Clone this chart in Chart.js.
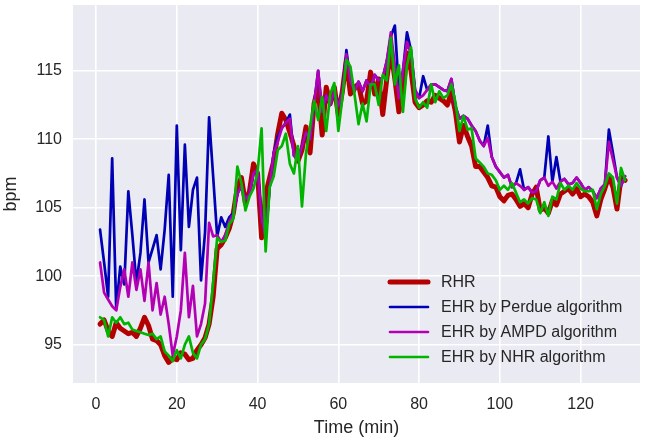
<!DOCTYPE html>
<html>
<head>
<meta charset="utf-8">
<script src="https://cdn.jsdelivr.net/npm/chart.js@4.4.0/dist/chart.umd.min.js"></script>
<style>
  html, body { margin: 0; padding: 0; background: #fff; }
  #wrap { width: 646px; height: 439px; }
</style>
</head>
<body>
<div id="wrap"><canvas id="hrChart" width="646" height="439"></canvas></div>
<script>
// minutes
var time = [
  1, 2, 3, 4, 5, 6, 7, 8, 9, 10, 11, 12, 13, 14, 15, 16, 17, 18, 19, 20,
  21, 22, 23, 24, 25, 26, 27, 28, 29, 30, 31, 32, 33, 34, 35, 36, 37, 38, 39, 40,
  41, 42, 43, 44, 45, 46, 47, 48, 49, 50, 51, 52, 53, 54, 55, 56, 57, 58, 59, 60,
  61, 62, 63, 64, 65, 66, 67, 68, 69, 70, 71, 72, 73, 74, 75, 76, 77, 78, 79, 80,
  81, 82, 83, 84, 85, 86, 87, 88, 89, 90, 91, 92, 93, 94, 95, 96, 97, 98, 99, 100,
  101, 102, 103, 104, 105, 106, 107, 108, 109, 110, 111, 112, 113, 114, 115, 116, 117, 118, 119, 120,
  121, 122, 123, 124, 125, 126, 127, 128, 129, 130, 131
];

var rhr = [
  96.5, 96.8, 96.0, 95.6, 96.6, 96.2, 96.0, 95.8, 95.9, 95.6,
  96.2, 97.0, 96.4, 95.4, 95.3, 95.0, 94.2, 93.7, 94.0, 93.9,
  94.4, 94.3, 93.9, 94.0, 94.6, 95.0, 95.5, 96.5, 98.5, 102.0,
  102.3, 102.8, 103.5, 104.6, 106.5, 107.2, 105.3, 106.2, 108.2, 107.5,
  102.8, 106.0, 107.2, 108.4, 110.4, 111.9, 111.4, 110.5, 109.5, 108.4,
  109.2, 110.9, 109.0, 112.6, 113.8, 110.3, 113.8, 112.6, 113.8, 111.8,
  113.5, 115.8, 113.3, 113.8, 114.0, 112.6, 112.8, 114.9, 113.3, 114.4,
  111.8, 114.4, 116.5, 114.4, 112.0, 113.5, 116.3, 115.0, 112.7, 112.3,
  112.5, 112.8, 112.7, 113.2, 113.0, 112.8, 112.5, 113.4, 112.0, 109.8,
  111.0, 110.2, 109.5, 108.0, 108.0, 107.6, 107.2, 106.6, 106.5, 105.8,
  105.5, 105.9, 106.0, 105.6, 105.1, 105.3, 105.0, 106.0, 106.5, 104.8,
  105.0, 104.6, 105.5, 105.2, 106.0, 106.2, 106.4, 106.0, 106.4, 105.8,
  106.0, 105.8, 105.4, 104.4, 105.6, 106.4, 107.3, 106.5, 104.9, 107.2, 107.0
];

var perdue = [
  103.4, 101.0, 98.5, 108.6, 97.6, 100.7, 99.4, 106.2, 103.0, 99.5,
  101.7, 105.6, 101.0, 102.0, 103.0, 100.5, 103.4, 107.4, 98.5, 111.0,
  101.9, 109.6, 103.6, 106.3, 107.2, 99.7, 103.2, 111.6, 107.3, 102.9,
  104.3, 103.6, 104.3, 104.6, 106.0, 106.6, 105.6, 106.0, 107.5, 107.8,
  104.2, 102.8, 106.5, 109.0, 110.2, 110.8, 111.2, 111.8, 108.8, 108.5,
  109.5, 110.5, 110.0, 112.5, 115.0, 112.0, 113.2, 112.5, 113.5, 112.4,
  113.4, 116.5, 114.2, 113.5, 114.2, 113.5, 114.3, 113.8, 114.7, 114.3,
  114.5, 115.7, 117.5, 118.3, 113.5, 115.0, 117.8, 116.5, 113.6, 113.0,
  114.6, 113.6, 114.0, 114.0, 113.8, 113.6, 113.5, 114.4, 112.4, 111.5,
  111.7, 111.5, 111.0, 110.6, 109.9, 109.5, 111.0, 108.7, 108.0, 107.6,
  107.2, 107.4, 106.5, 106.8, 107.8, 106.3, 106.5, 106.1, 106.2, 107.0,
  107.2, 110.2, 106.9, 108.7, 106.9, 107.1, 106.7, 106.8, 107.2, 106.8,
  106.3, 106.5, 106.2, 105.7, 106.4, 106.7, 110.7, 109.0, 107.2, 106.6, 107.3
];

var ampd = [
  101.0, 98.8, 98.3, 97.8, 97.5, 99.2, 100.5, 98.5, 101.0, 99.0,
  100.5, 98.2, 101.0, 97.5, 99.5, 97.2, 98.5, 96.5, 94.2, 95.6,
  97.5, 101.7, 97.0, 99.3, 95.6, 96.5, 98.0, 103.9, 102.9, 103.0,
  102.5, 103.0, 104.0, 104.5, 106.0, 106.6, 105.6, 106.0, 107.5, 107.8,
  104.2, 102.8, 106.5, 109.0, 109.8, 110.8, 111.2, 111.5, 108.8, 108.5,
  109.5, 110.5, 110.0, 112.5, 115.0, 112.0, 113.2, 112.5, 113.5, 112.4,
  113.4, 116.2, 114.2, 113.5, 114.2, 113.5, 114.3, 113.8, 114.7, 114.3,
  114.5, 115.7, 117.8, 115.4, 113.0, 115.0, 117.1, 116.2, 113.6, 113.0,
  113.2, 113.6, 114.0, 114.0, 113.8, 113.6, 113.5, 114.4, 112.4, 111.5,
  111.7, 111.5, 111.0, 110.6, 109.9, 109.5, 110.1, 108.7, 108.0, 107.6,
  107.2, 107.4, 106.5, 106.8, 106.6, 106.3, 106.5, 106.1, 106.2, 107.0,
  107.2, 106.6, 106.9, 106.4, 106.9, 107.1, 106.7, 106.8, 107.2, 106.8,
  106.3, 106.5, 106.2, 105.7, 106.4, 106.7, 109.8, 108.5, 107.2, 106.6, 107.3
];

var nhr = [
  97.0, 96.8, 95.6, 97.0, 96.6, 97.0, 96.5, 96.6, 96.1, 96.0,
  95.9, 95.8, 95.7, 95.8, 95.4, 95.6, 94.5, 94.2, 93.8, 94.6,
  94.0, 95.0, 95.6, 94.4, 94.0, 95.0, 95.4, 96.5, 99.5, 102.8,
  102.5, 102.6, 103.8, 104.2, 108.0, 106.8, 104.8, 105.8, 106.4, 107.6,
  110.8, 101.8, 106.5, 107.3, 109.2, 109.5, 110.4, 108.2, 107.5, 109.5,
  105.1, 109.0, 110.9, 112.8, 111.4, 113.1, 110.6, 113.3, 114.1, 110.6,
  113.0, 115.8, 115.3, 113.3, 111.1, 112.6, 111.3, 114.0, 114.0, 112.5,
  114.7, 114.3, 117.4, 114.0, 115.4, 112.0, 115.4, 116.7, 113.0, 112.3,
  112.7, 112.3, 114.0, 112.7, 113.5, 113.0, 113.2, 114.0, 112.7, 110.6,
  111.7, 110.7, 110.8, 108.6, 108.3, 108.0, 107.5, 107.4, 107.0, 106.3,
  106.6, 106.3, 106.8, 106.1, 105.4, 105.6, 105.3, 105.7, 105.6, 104.6,
  105.4, 104.4, 105.8, 105.6, 106.8, 106.3, 106.6, 106.3, 106.8, 106.4,
  106.2, 106.2, 106.3, 104.9, 106.0, 106.6, 107.5, 107.2, 105.3, 107.9, 107.0
];

var seriesNames = ['RHR', 'EHR by Perdue algorithm', 'EHR by AMPD algorithm', 'EHR by NHR algorithm'];
var xTicks = [0, 20, 40, 60, 80, 100, 120];
var yTicks = [95, 100, 105, 110, 115];

function toPoints(values) {
  return values.map(function (v, i) { return { x: time[i], y: v }; });
}

var FONT = '"Liberation Sans", Arial, sans-serif';
var TEXT = '#262626';

// grey seaborn style background
var bgPlugin = {
  id: 'plotBg',
  beforeDraw: function (chart) {
    var a = chart.chartArea, c = chart.ctx;
    c.save();
    c.fillStyle = '#eaeaf2';
    c.fillRect(a.left, a.top, a.right - a.left, a.bottom - a.top);
    c.restore();
  }
};

// legend drawn inside the plot, lower right, no frame
var legendPlugin = {
  id: 'innerLegend',
  afterDatasetsDraw: function (chart) {
    var c = chart.ctx;
    var x0 = 390, x1 = 428, tx = 441;
    var rows = [282, 307, 332, 357];
    c.save();
    chart.data.datasets.forEach(function (ds, i) {
      c.beginPath();
      c.strokeStyle = ds.borderColor;
      c.lineWidth = ds.borderWidth;
      c.lineCap = 'round';
      c.moveTo(x0, rows[i]);
      c.lineTo(x1, rows[i]);
      c.stroke();
      c.fillStyle = TEXT;
      c.font = '16px ' + FONT;
      c.textBaseline = 'middle';
      c.textAlign = 'left';
      c.fillText(ds.label, tx, rows[i] + 1);
    });
    c.restore();
  }
};

var colors = ['#b40000', '#0000b4', '#b400b4', '#00b400'];
var widths = [5, 2.7, 2.7, 2.7];
var allSeries = [rhr, perdue, ampd, nhr];

var ctx = document.getElementById('hrChart').getContext('2d');
var chart = new Chart(ctx, {
  type: 'line',
  data: {
    datasets: allSeries.map(function (s, i) {
      return {
        label: seriesNames[i],
        data: toPoints(s),
        borderColor: colors[i],
        backgroundColor: colors[i],
        borderWidth: widths[i],
        borderJoinStyle: 'round',
        borderCapStyle: 'round',
        pointRadius: 0,
        tension: 0,
        fill: false,
        order: allSeries.length - i // first series at the bottom, NHR on top
      };
    })
  },
  options: {
    responsive: false,
    animation: false,
    layout: { padding: { top: 5, right: 6, left: 0, bottom: 0 } },
    plugins: {
      legend: { display: false },
      tooltip: { enabled: false }
    },
    scales: {
      x: {
        type: 'linear',
        min: -5.7,
        max: 134.7,
        afterBuildTicks: function (axis) {
          axis.ticks = xTicks.map(function (v) { return { value: v }; });
        },
        afterFit: function (axis) {
          axis.height = 56;
          axis.paddingLeft = 0;
          axis.paddingRight = 0;
        },
        grid: { color: '#ffffff', lineWidth: 1.6, drawTicks: false },
        border: { display: false },
        ticks: { color: TEXT, font: { family: FONT, size: 16 }, padding: 12, maxRotation: 0 },
        title: { display: true, text: 'Time (min)', color: TEXT, font: { family: FONT, size: 18 }, padding: { top: 2, bottom: 0 } }
      },
      y: {
        min: 92.2,
        max: 119.8,
        afterBuildTicks: function (axis) {
          axis.ticks = yTicks.map(function (v) { return { value: v }; });
        },
        afterFit: function (axis) {
          axis.width = 73;
          axis.paddingTop = 0;
          axis.paddingBottom = 0;
        },
        grid: { color: '#ffffff', lineWidth: 1.6, drawTicks: false },
        border: { display: false },
        ticks: { color: TEXT, font: { family: FONT, size: 16 }, padding: 11 },
        title: { display: true, text: 'bpm', color: TEXT, font: { family: FONT, size: 18 }, padding: { top: 0, bottom: 4 } }
      }
    }
  },
  plugins: [bgPlugin, legendPlugin]
});
</script>
</body>
</html>
